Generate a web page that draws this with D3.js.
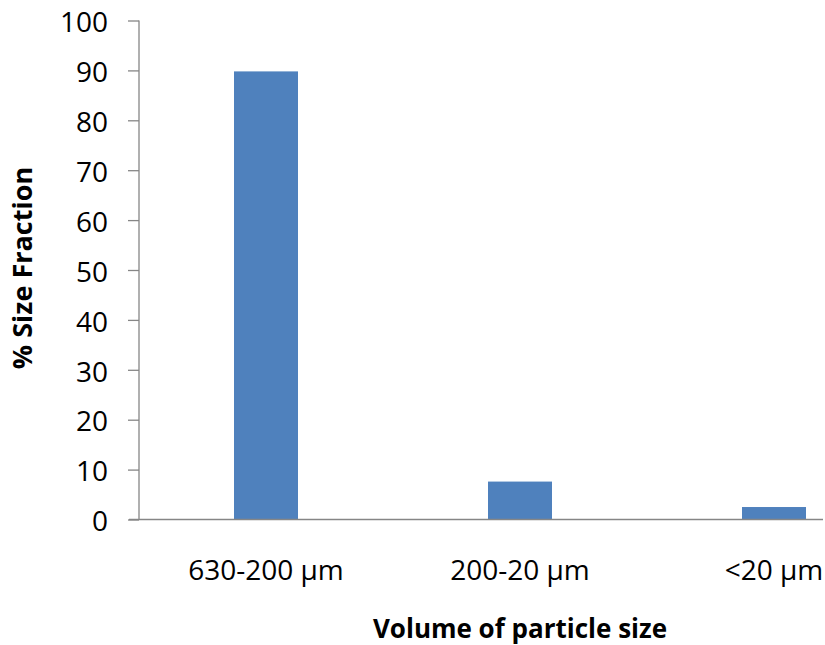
<!DOCTYPE html>
<html>
<head>
<meta charset="utf-8">
<script src="https://cdn.jsdelivr.net/npm/d3@7"></script>
<style>
  body { margin: 0; background: #fff; }
  svg text { font-family: 'Open Sans', 'Noto Sans', sans-serif; fill: #000; }
</style>
</head>
<body>
<div id="chart"></div>
<script>
const categories = ['630-200 \u00b5m', '200-20 \u00b5m', '<20 \u00b5m'];
const values = [89.8, 7.6, 2.5];
const yTicks = [0, 10, 20, 30, 40, 50, 60, 70, 80, 90, 100];

const W = 825, H = 645;
const axisX = 139;
const axisGray = '#868686';

const svg = d3.select('#chart').append('svg').attr('width', W).attr('height', H);

// band of 254px per category, the third one runs off the right edge like the original
const x = d3.scaleBand().domain(categories).range([axisX, axisX + 254 * 3]).paddingInner(0).paddingOuter(0);
const y = d3.scaleLinear().domain([0, 100]).range([519.5, 20.5]);
const barW = 64;

// bars
svg.append('g')
  .selectAll('rect')
  .data(values)
  .enter()
  .append('rect')
  .attr('x', (d, i) => x(categories[i]) + x.bandwidth() / 2 - barW / 2)
  .attr('y', d => y(d))
  .attr('width', barW)
  .attr('height', d => y(0) - y(d))
  .attr('fill', '#4f81bd');

// y axis
const yAxis = svg.append('g')
  .attr('transform', `translate(${axisX},0)`)
  .call(d3.axisLeft(y).tickValues(yTicks).tickSize(11).tickPadding(20));
yAxis.select('.domain').attr('stroke', axisGray).attr('stroke-width', 1.3)
  .attr('d', `M0,${y(100)}V${y(0)}`);
yAxis.selectAll('.tick line').attr('stroke', axisGray).attr('stroke-width', 1.3);
yAxis.selectAll('.tick text')
  .attr('font-size', 28)
  .attr('dy', '0.4em')
  .style('fill', '#000');

// x axis
const xAxis = svg.append('g')
  .attr('transform', `translate(0,${y(0)})`)
  .call(d3.axisBottom(x).tickSize(0).tickPadding(0));
xAxis.select('.domain').remove();
xAxis.append('line')
  .attr('x1', 129).attr('x2', 823)
  .attr('stroke', axisGray).attr('stroke-width', 1.6);
xAxis.selectAll('.tick text')
  .attr('font-size', 28)
  .attr('y', 0)
  .attr('dy', 60.5)
  .style('fill', '#000');

// axis titles
svg.append('text')
  .attr('transform', `translate(32,268) rotate(-90)`)
  .attr('text-anchor', 'middle')
  .attr('font-size', 27)
  .attr('font-weight', 'bold')
  .text('% Size Fraction');

svg.append('text')
  .attr('x', 520)
  .attr('y', 638)
  .attr('text-anchor', 'middle')
  .attr('font-size', 26)
  .attr('font-weight', 'bold')
  .text('Volume of particle size');
</script>
</body>
</html>
